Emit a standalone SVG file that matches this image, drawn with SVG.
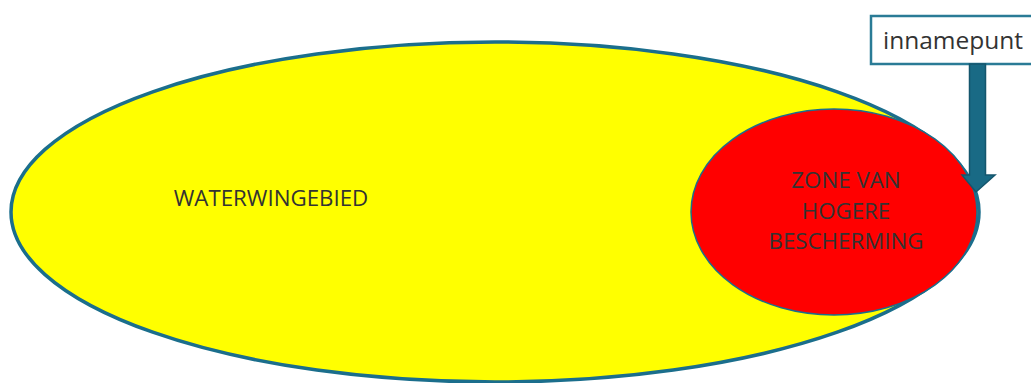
<svg xmlns="http://www.w3.org/2000/svg" width="1031" height="383" viewBox="0 0 1031 383">
<style>
text{font-family:"Open Sans","Liberation Sans",sans-serif;fill:#333333;}
.lbl{font-size:22.3px;text-anchor:middle;}
</style>
<rect width="1031" height="383" fill="#ffffff"/>
<g id="waterwingebied">
<ellipse cx="495" cy="212" rx="484" ry="170" fill="#ffff00" stroke="#1b6e8c" stroke-width="3.5"/>
<text class="lbl" x="271" y="206">WATERWINGEBIED</text>
</g>
<g id="zone">
<ellipse cx="834" cy="212" rx="143" ry="103" fill="#ff0000" stroke="#1b6e8c" stroke-width="1.5"/>
<text class="lbl" x="846" y="188">ZONE VAN</text>
<text class="lbl" x="846" y="219">HOGERE</text>
<text class="lbl" x="846" y="249">BESCHERMING</text>
</g>
<g id="innamepunt">
<rect x="871" y="16" width="200" height="48" fill="#ffffff" stroke="#2a7b96" stroke-width="2.5"/>
<text x="883" y="49" style="font-size:24.5px;font-weight:500;">innamepunt</text>
</g>
<g id="connectors">
<path d="M969.5,64 L985.5,64 L985.5,175 L995,175 L976,192 L962,175 L969.5,175 Z" fill="#196a85" stroke="#14566d" stroke-width="1.5"/>
</g>
</svg>
